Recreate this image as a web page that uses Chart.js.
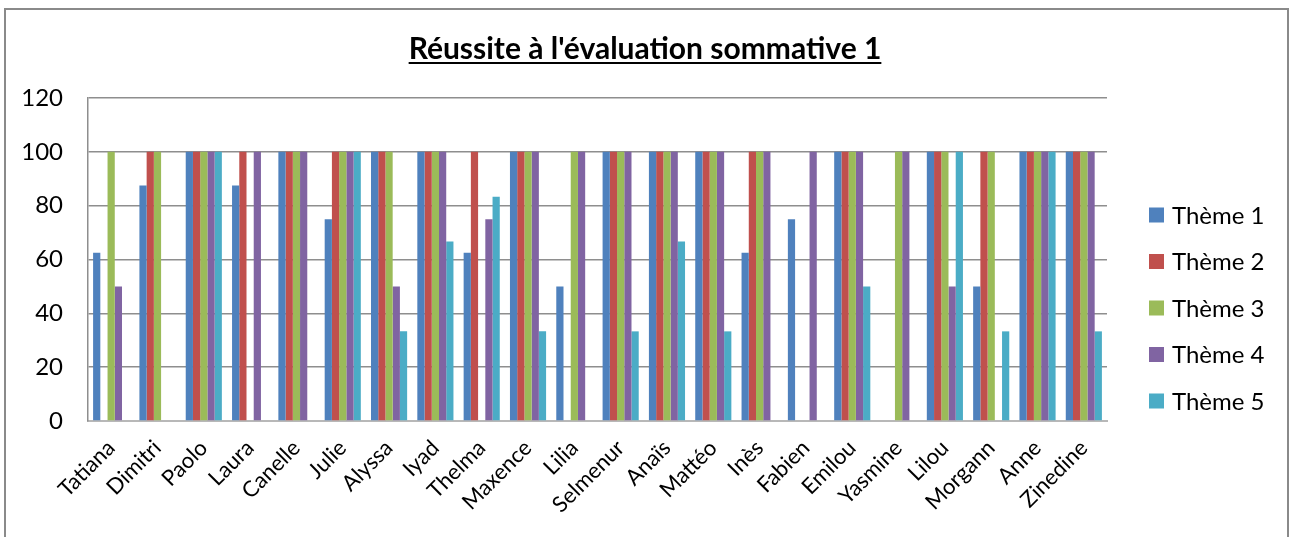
<!DOCTYPE html>
<html>
<head>
<meta charset="utf-8">
<script src="https://cdn.jsdelivr.net/npm/chart.js@4/dist/chart.umd.min.js"></script>
<style>
  html, body { margin: 0; padding: 0; background: #ffffff; }
  #wrap { width: 1290px; height: 537px; position: relative; }
</style>
</head>
<body>
<div id="wrap"><canvas id="c" width="1290" height="537"></canvas></div>
<script>
// Élèves et résultats (%) par thème
const eleves = ['Tatiana', 'Dimitri', 'Paolo', 'Laura', 'Canelle', 'Julie', 'Alyssa', 'Iyad', 'Thelma', 'Maxence', 'Lilia',
  'Selmenur', 'Anaïs', 'Mattéo', 'Inès', 'Fabien', 'Emilou', 'Yasmine', 'Lilou', 'Morgann', 'Anne', 'Zinedine'];
const theme1 = [62.5, 87.5, 100, 87.5, 100, 75, 100, 100, 62.5, 100, 50, 100, 100, 100, 62.5, 75, 100, 0, 100, 50, 100, 100];
const theme2 = [0, 100, 100, 100, 100, 100, 100, 100, 100, 100, 0, 100, 100, 100, 100, 0, 100, 0, 100, 100, 100, 100];
const theme3 = [100, 100, 100, 0, 100, 100, 100, 100, 0, 100, 100, 100, 100, 100, 100, 0, 100, 100, 100, 100, 100, 100];
const theme4 = [50, 0, 100, 100, 100, 100, 50, 100, 75, 100, 100, 100, 100, 100, 100, 100, 100, 100, 50, 0, 100, 100];
const theme5 = [0, 0, 100, 0, 0, 100, 33.3, 66.7, 83.3, 33.3, 0, 33.3, 66.7, 33.3, 0, 0, 50, 0, 100, 33.3, 100, 33.3];
const nomsSeries = ['Thème 1', 'Thème 2', 'Thème 3', 'Thème 4', 'Thème 5'];
const titre = "Réussite à l'évaluation sommative 1";

const couleurs = ['#4F81BD', '#C0504D', '#9BBB59', '#8064A2', '#4BACC6'];
const police = 'Lato, "Open Sans", "DejaVu Sans", sans-serif';

// Cadre gris autour du graphique
const cadre = {
  id: 'cadre',
  beforeDraw(chart) {
    const ctx = chart.ctx;
    ctx.save();
    ctx.fillStyle = '#ffffff';
    ctx.fillRect(0, 0, chart.width, chart.height);
    ctx.strokeStyle = '#8a8a8a';
    ctx.lineWidth = 2;
    ctx.strokeRect(5, 9, 1283, 600);
    ctx.restore();
  }
};

// Titre souligné
const titreSouligne = {
  id: 'titreSouligne',
  afterDraw(chart) {
    const ctx = chart.ctx;
    ctx.save();
    ctx.font = 'bold 30px ' + police;
    ctx.fillStyle = '#000000';
    ctx.textAlign = 'center';
    ctx.textBaseline = 'alphabetic';
    const cx = 645, base = 59;
    ctx.fillText(titre, cx, base);
    const w = ctx.measureText(titre).width;
    ctx.fillRect(cx - w / 2, base + 3, w, 2);
    ctx.restore();
  }
};

// Légende à droite, construite à partir des séries
const legendeDroite = {
  id: 'legendeDroite',
  afterDraw(chart) {
    const ctx = chart.ctx;
    ctx.save();
    ctx.font = '24px ' + police;
    ctx.textBaseline = 'middle';
    ctx.textAlign = 'left';
    chart.data.datasets.forEach((ds, i) => {
      const y = 215 + i * 46.5;
      ctx.fillStyle = ds.backgroundColor;
      ctx.fillRect(1149, y - 7.5, 15, 15);
      ctx.fillStyle = '#000000';
      ctx.fillText(ds.label, 1172, y + 1);
    });
    ctx.restore();
  }
};

const series = [theme1, theme2, theme3, theme4, theme5];

new Chart(document.getElementById('c'), {
  type: 'bar',
  data: {
    labels: eleves,
    datasets: series.map((vals, i) => ({
      label: nomsSeries[i],
      data: vals,
      backgroundColor: couleurs[i],
      borderWidth: 0,
      categoryPercentage: 0.78,
      barPercentage: 1.0
    }))
  },
  options: {
    responsive: false,
    animation: false,
    layout: { padding: { top: 98, left: 20, right: 183, bottom: 0 } },
    plugins: {
      legend: { display: false },
      title: { display: false },
      tooltip: { enabled: false }
    },
    scales: {
      x: {
        grid: { display: false, drawTicks: false },
        border: { color: '#b8b8b8', width: 2 },
        ticks: {
          color: '#000000',
          font: { family: police, size: 22 },
          minRotation: 45,
          maxRotation: 45,
          autoSkip: false,
          padding: 14
        },
        afterFit(scale) { scale.height = 116; }
      },
      y: {
        min: 0,
        max: 120,
        ticks: {
          stepSize: 20,
          color: '#000000',
          font: { family: police, size: 24 },
          padding: 25
        },
        grid: { color: '#8e8e8e', lineWidth: 1.5, drawTicks: false },
        border: { color: '#8e8e8e', width: 1.5 },
        afterFit(scale) { scale.width = 68; }
      }
    }
  },
  plugins: [cadre, titreSouligne, legendeDroite]
});
</script>
</body>
</html>
